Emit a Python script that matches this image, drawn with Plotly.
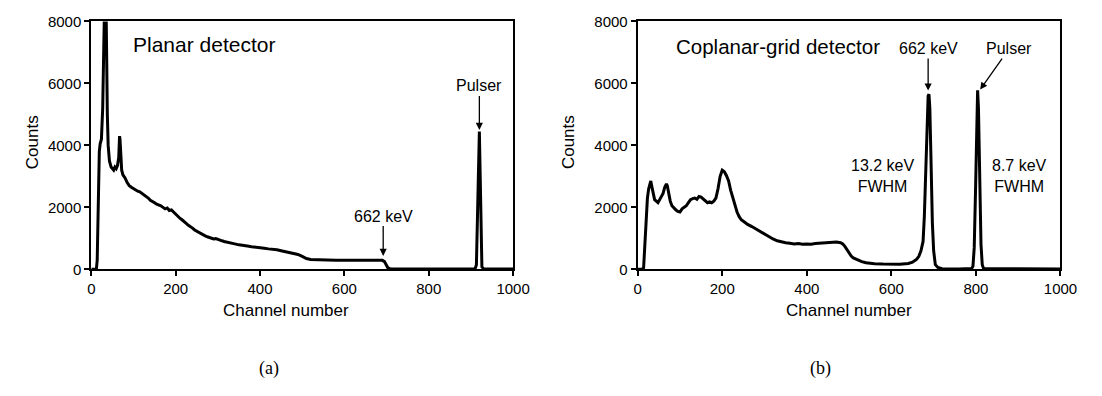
import plotly.graph_objects as go

W, H = 1102, 396

# ---- data ----
planar_ch = [0, 10, 12, 14, 17, 19, 21, 24, 27, 29, 31, 33, 35, 36, 38, 40, 43, 47, 50, 53, 56, 59, 62, 65,
             67, 68, 70, 72, 75, 80, 85, 90, 95, 100, 105, 110, 115, 120, 125, 130, 135, 140, 145, 150,
             155, 160, 165, 170, 175, 180, 185, 190, 195, 200, 205, 210, 215, 220, 225, 230, 235, 240,
             245, 250, 255, 260, 265, 270, 275, 280, 285, 290, 295, 300, 305, 310, 315, 320, 330, 340,
             350, 360, 370, 380, 390, 400, 410, 420, 430, 440, 450, 460, 470, 480, 490, 500, 505, 510,
             520, 530, 540, 560, 580, 600, 620, 640, 660, 680, 690, 695, 700, 703, 708, 750, 800, 850,
             900, 910, 913, 916, 918, 920, 922, 924, 926, 930, 1000]
planar_counts = [0, 0, 0, 300, 2500, 3800, 4050, 4200, 5200, 6500, 8500, 9800, 8500, 7000, 5000, 4000,
                 3500, 3300, 3250, 3200, 3300, 3250, 3350, 3600, 4300, 4200, 3700, 3200, 3050, 2950,
                 2800, 2700, 2650, 2600, 2580, 2520, 2500, 2450, 2400, 2380, 2300, 2230, 2200, 2150,
                 2100, 2080, 2050, 2000, 1950, 1980, 1900, 1920, 1850, 1800, 1700, 1650, 1600, 1550,
                 1480, 1420, 1380, 1330, 1270, 1230, 1200, 1150, 1100, 1080, 1050, 1020, 1000, 980,
                 990, 960, 940, 920, 900, 880, 850, 820, 790, 760, 750, 730, 720, 700, 680, 660, 650,
                 630, 600, 570, 540, 520, 480, 420, 380, 350, 320, 310, 300, 300, 290, 290, 290, 285,
                 290, 300, 290, 250, 120, 50, 20, 10, 10, 10, 10, 20, 150, 1800, 3800, 4450, 3000, 800,
                 80, 10, 10]

cpg_ch = [0, 10, 14, 17, 20, 23, 26, 29, 31, 33,
          36, 40, 44, 48, 52, 56, 60, 64, 68, 70,
          73, 77, 81, 85, 90, 95, 100, 105, 110, 115,
          120, 125, 130, 135, 140, 145, 150, 155, 160, 165,
          170, 175, 180, 185, 190, 195, 200, 205, 210, 215,
          220, 225, 230, 235, 240, 245, 250, 260, 270, 280,
          290, 300, 310, 320, 330, 340, 350, 360, 370, 380,
          390, 400, 410, 420, 430, 440, 450, 460, 470, 480,
          485, 490, 495, 500, 505, 510, 520, 530, 540, 550,
          560, 580, 600, 620, 640, 650, 660, 665, 670, 675,
          678, 681, 684, 687, 689, 691, 693, 695, 697, 700,
          704, 710, 720, 760, 785, 790, 793, 796, 799, 801,
          803, 804, 806, 808, 810, 812, 815, 818, 825, 900,
          1000]
cpg_counts = [0, 0, 50, 800, 1800, 2300, 2600, 2750, 2850, 2700,
              2450, 2250, 2200, 2150, 2250, 2330, 2450, 2650, 2760, 2700,
              2450, 2200, 2050, 1980, 1920, 1870, 1850, 1950, 2000, 2050,
              2150, 2250, 2280, 2300, 2260, 2350, 2330, 2260, 2200, 2150,
              2180, 2150, 2200, 2300, 2600, 3000, 3200, 3150, 3020, 2850,
              2550, 2300, 2050, 1850, 1700, 1600, 1550, 1450, 1380, 1300,
              1200, 1130, 1050, 980, 920, 880, 860, 840, 820, 830,
              810, 820, 810, 830, 840, 870, 880, 890, 880, 860,
              820, 740, 640, 520, 430, 370, 300, 250, 210, 190,
              180, 170, 160, 165, 190, 230, 330, 420, 600, 900,
              1700, 3300, 4900, 5600, 5650, 5200, 4000, 2600, 1500, 600,
              150, 60, 20, 10, 10, 30, 100, 700, 2500, 4300,
              5600, 5780, 5200, 3600, 2000, 800, 150, 30, 20, 15,
              10]

assert len(planar_ch) == len(planar_counts)
assert len(cpg_ch) == len(cpg_counts)

x_ticks = [0, 200, 400, 600, 800, 1000]
y_ticks = [0, 2000, 4000, 6000, 8000]

# ---- layout geometry (pixels) ----
LX0, LX1 = 89, 519
RX0, RX1 = 646, 1077
YT, YB = 13, 272


def px(x):
    return x / W


def py(y):
    return 1 - y / H


FONT = "Liberation Sans, Arial, sans-serif"

fig = go.Figure()
fig.add_trace(go.Scatter(x=planar_ch, y=planar_counts, mode="lines",
                         line=dict(color="black", width=3), xaxis="x", yaxis="y",
                         showlegend=False, hoverinfo="skip"))
fig.add_trace(go.Scatter(x=cpg_ch, y=cpg_counts, mode="lines",
                         line=dict(color="black", width=3), xaxis="x2", yaxis="y2",
                         showlegend=False, hoverinfo="skip"))

ax_common = dict(showline=True, linecolor="black", linewidth=2, mirror=True,
                 ticks="outside", ticklen=5, tickwidth=2, tickcolor="black",
                 showgrid=False, zeroline=False,
                 tickfont=dict(family=FONT, size=15, color="black"))

fig.update_layout(
    width=W, height=H,
    margin=dict(l=0, r=0, t=0, b=0),
    paper_bgcolor="white", plot_bgcolor="white",
    xaxis=dict(domain=[px(LX0), px(LX1)], range=[0, 1000], tickvals=x_ticks,
               anchor="y", **ax_common),
    yaxis=dict(domain=[py(YB), py(YT)], range=[0, 8000], tickvals=y_ticks,
               anchor="x", **ax_common),
    xaxis2=dict(domain=[px(RX0), px(RX1)], range=[0, 1000], tickvals=x_ticks,
                anchor="y2", **ax_common),
    yaxis2=dict(domain=[py(YB), py(YT)], range=[0, 8000], tickvals=y_ticks,
                anchor="x2", **ax_common),
)

ann = []


def text(x, y, t, size, xanchor="center", family=FONT):
    ann.append(dict(x=px(x), y=py(y), xref="paper", yref="paper", text=t, showarrow=False,
                    xanchor=xanchor, yanchor="middle",
                    font=dict(family=family, size=size, color="black")))


# axis titles
text(287, 315, "Channel number", 17)
text(861, 315, "Channel number", 17)
ann.append(dict(x=px(17), y=py(139), xref="paper", yref="paper", text="Counts", showarrow=False,
                textangle=-90, font=dict(family=FONT, size=17, color="black")))
ann.append(dict(x=px(575), y=py(139), xref="paper", yref="paper", text="Counts", showarrow=False,
                textangle=-90, font=dict(family=FONT, size=17, color="black")))

# panel titles
text(129, 37, "Planar detector", 21, xanchor="left")
text(683, 39, "Coplanar-grid detector", 20.5, xanchor="left")

# FWHM notes
text(896, 174, "13.2 keV<br>FWHM", 16)
text(1035, 174, "8.7 keV<br>FWHM", 16)

# sub-figure labels
SERIF = "Liberation Serif, DejaVu Serif, serif"
text(270, 376, "(a)", 18, family=SERIF)
text(832, 376, "(b)", 18, family=SERIF)


def arrow(xd, yd, ax, ay, t, xr, yr):
    ann.append(dict(x=xd, y=yd, xref=xr, yref=yr, text=t, showarrow=True,
                    ax=ax, ay=ay, axref="pixel", ayref="pixel",
                    arrowhead=2, arrowsize=1.1, arrowwidth=1.3, arrowcolor="black",
                    font=dict(family=FONT, size=16, color="black")))


arrow(920, 4500, 0, -44, "Pulser", "x", "y")
arrow(692, 430, 0, -40, "662 keV", "x", "y")
arrow(687, 5770, 0, -42, "662 keV", "x2", "y2")
arrow(810, 5800, 29, -41, "Pulser", "x2", "y2")

fig.update_layout(annotations=ann)
fig.write_html("out.html")
